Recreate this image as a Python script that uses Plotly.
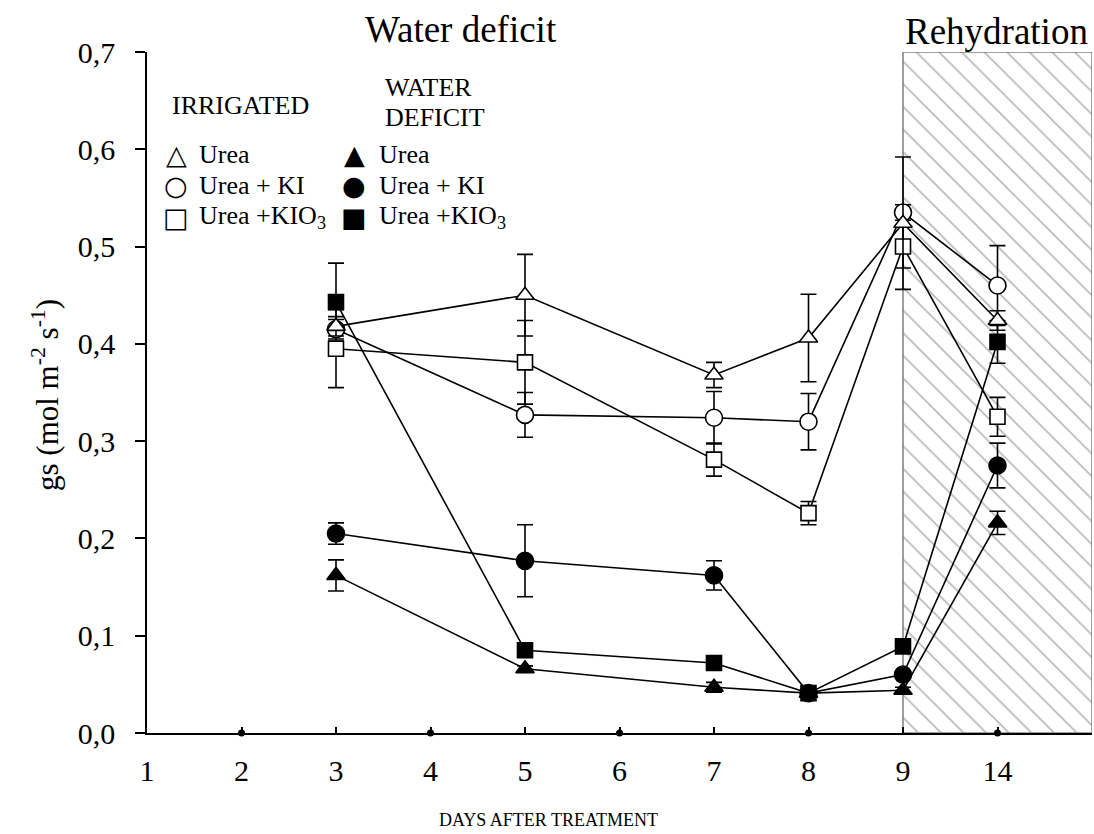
import plotly.graph_objects as go

# ---------------- data ----------------
days = ["1", "2", "3", "4", "5", "6", "7", "8", "9", "14"]
sampled_days = ["3", "5", "7", "8", "9", "14"]
dot_days = ["2", "4", "6", "8", "14"]

irr_urea = [0.418, 0.450, 0.368, 0.406, 0.524, 0.424]
irr_urea_err = [0.010, 0.042, 0.013, 0.045, 0.068, 0.010]
irr_ki = [0.415, 0.327, 0.324, 0.320, 0.535, 0.460]
irr_ki_err = [0.010, 0.023, 0.027, 0.029, 0.008, 0.041]
irr_kio3 = [0.395, 0.381, 0.281, 0.226, 0.500, 0.325]
irr_kio3_err = [0.040, 0.043, 0.017, 0.012, 0.022, 0.020]
wd_urea = [0.162, 0.066, 0.047, 0.041, 0.044, 0.216]
wd_urea_err = [0.016, 0.003, 0.005, 0.002, 0.003, 0.012]
wd_ki = [0.205, 0.177, 0.162, 0.041, 0.060, 0.275]
wd_ki_err = [0.011, 0.037, 0.015, 0.002, 0.003, 0.023]
wd_kio3 = [0.443, 0.085, 0.072, 0.041, 0.089, 0.402]
wd_kio3_err = [0.040, 0.003, 0.003, 0.002, 0.003, 0.022]

rehyd_span = ["9", "14"]

FONT = "Liberation Serif"

def xpos(d):
    return days.index(d) + 1

xs = [xpos(d) for d in sampled_days]
x_end = len(days) + 1

fig = go.Figure()

# hatched rehydration region
x0 = xpos(rehyd_span[0])
fig.add_trace(go.Scatter(
    x=[x0, x_end, x_end, x0, x0], y=[0, 0, 0.7, 0.7, 0],
    mode="lines", fill="toself",
    line=dict(color="#808080", width=1.5),
    fillcolor="white",
    fillpattern=dict(shape="\\", fgcolor="#707070", bgcolor="white",
                     size=16, solidity=0.1),
    hoverinfo="skip", showlegend=False))

series = [
    (wd_urea, wd_urea_err, "triangle-up", "black"),
    (wd_ki, wd_ki_err, "circle", "black"),
    (wd_kio3, wd_kio3_err, "square", "black"),
    (irr_kio3, irr_kio3_err, "square", "white"),
    (irr_ki, irr_ki_err, "circle", "white"),
    (irr_urea, irr_urea_err, "triangle-up", "white"),
]
for vals, err, sym, fill in series:
    size = 15 if sym == "square" else (17 if sym == "circle" else 16)
    fig.add_trace(go.Scatter(
        x=xs, y=vals, mode="lines+markers",
        line=dict(color="black", width=1.6),
        marker=dict(symbol=sym, size=size, color=fill,
                    line=dict(color="black", width=1.6)),
        error_y=dict(type="data", array=err, color="black",
                     thickness=1.6, width=8),
        cliponaxis=False, showlegend=False))

# axis dots
fig.add_trace(go.Scatter(
    x=[xpos(d) for d in dot_days], y=[0] * len(dot_days), mode="markers",
    marker=dict(symbol="circle", size=7, color="black"),
    cliponaxis=False, showlegend=False, hoverinfo="skip"))

L, R, T, B = 147, 2, 52, 101
W, H = 1094, 834
pw, ph = W - L - R, H - T - B

def px(x):
    return (x - L) / pw

def py(y):
    return (H - B - y) / ph

ann = []
def text(x, y, s, size, xanchor="left", family=FONT, **kw):
    ann.append(dict(x=px(x), y=py(y), xref="paper", yref="paper", text=s,
                    showarrow=False, xanchor=xanchor, yanchor="middle",
                    font=dict(family=family, size=size, color="black"), **kw))

text(461, 30, "Water deficit", 37, xanchor="center")
text(996, 32, "Rehydration", 37, xanchor="center")
text(548, 820, "DAYS AFTER TREATMENT", 18, xanchor="center")
text(46, 395, "gs (mol m<sup>-2</sup> s<sup>-1</sup>)", 31, xanchor="center",
     textangle=-90)

# legend
text(170, 105, "IRRIGATED", 26)
text(383, 88, "WATER", 26)
text(383, 118, "DEFICIT", 26)
rows = [155, 186, 217]
labels = ["Urea", "Urea + KI", "Urea +KIO<sub>3</sub>"]
open_syms = ["\u25B3", "\u25CB", "\u25A1"]
fill_syms = ["\u25B2", "\u25CF", "\u25A0"]
for r, lab, o, f in zip(rows, labels, open_syms, fill_syms):
    text(176, r, o, 27, xanchor="center", family="DejaVu Sans")
    text(197, r, lab, 26)
    text(354, r, f, 27, xanchor="center", family="DejaVu Sans")
    text(377, r, lab, 26)

fig.update_layout(
    width=W, height=H,
    margin=dict(l=L, r=R, t=T, b=B),
    paper_bgcolor="white", plot_bgcolor="white",
    separators=", ",
    font=dict(family=FONT, size=30, color="black"),
    annotations=ann,
    xaxis=dict(range=[1, x_end], tickvals=list(range(1, len(days) + 1)),
               ticktext=days, ticks="inside", ticklen=6, tickwidth=1.5,
               tickcolor="black", showline=True, linecolor="black",
               linewidth=1.5, showgrid=False, zeroline=False,
               ticklabelstandoff=10,
               tickfont=dict(family=FONT, size=30)),
    yaxis=dict(range=[0, 0.7], tickvals=[0, 0.1, 0.2, 0.3, 0.4, 0.5, 0.6, 0.7],
               tickformat=".1f", ticks="outside", ticklen=10, tickwidth=1.5,
               tickcolor="black", showline=True, linecolor="black",
               linewidth=1.5, showgrid=False, zeroline=False,
               ticklabelstandoff=14,
               tickfont=dict(family=FONT, size=30)),
)

fig.write_html("out.html")
